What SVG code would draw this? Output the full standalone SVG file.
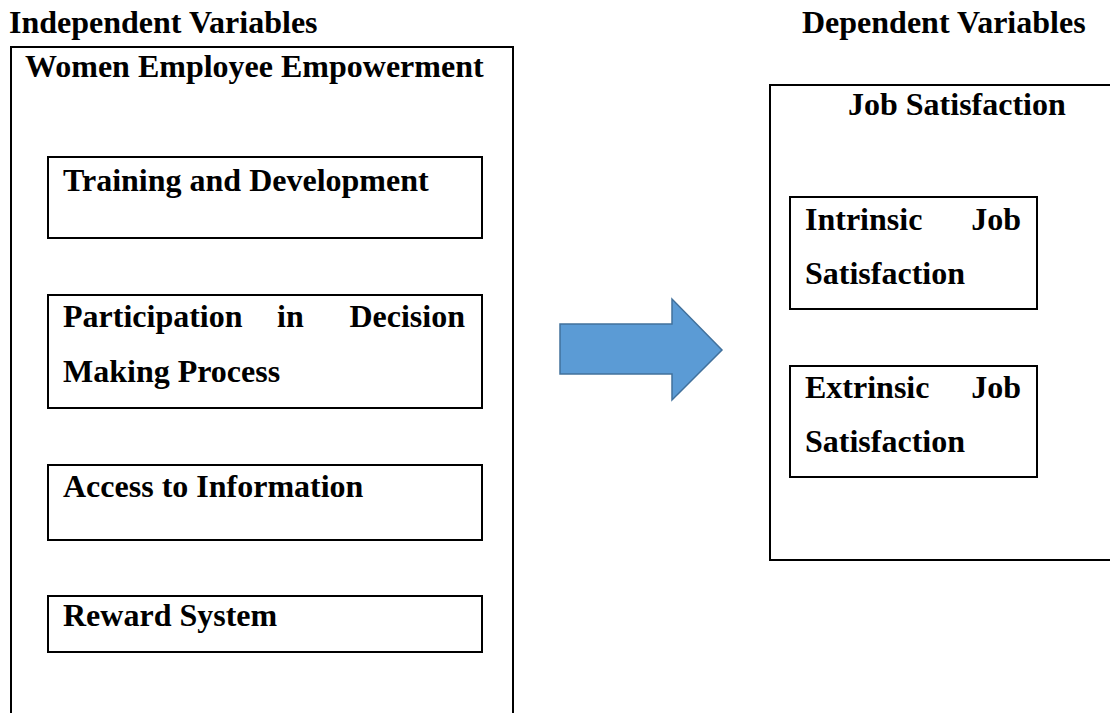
<svg xmlns="http://www.w3.org/2000/svg" width="1110" height="713" viewBox="0 0 1110 713">
  <style>
    .t { font-family: "Liberation Serif", "Times New Roman", serif; font-weight: bold; font-size: 32px; fill: #000; }
    .box { fill: none; stroke: #000; stroke-width: 2; }
    .arrow { fill: #5b9bd5; stroke: #41719c; stroke-width: 1.5; }
  </style>
  <rect width="1110" height="713" fill="#fff"/>

  <!-- column headings -->
  <text class="t" x="9" y="33">Independent Variables</text>
  <text class="t" x="802" y="33">Dependent Variables</text>

  <!-- independent side: container (open at the bottom edge) -->
  <g id="empowerment">
    <path class="box" d="M11 720 V47 H513 V720"/>
    <text class="t" x="25" y="77">Women Employee Empowerment</text>
  </g>

  <g id="training">
    <rect class="box" x="48" y="157" width="434" height="81"/>
    <text class="t" x="63" y="191">Training and Development</text>
  </g>

  <g id="participation">
    <rect class="box" x="48" y="295" width="434" height="113"/>
    <text class="t" x="63" y="327">Participation</text>
    <text class="t" x="277" y="327">in</text>
    <text class="t" x="465" y="327" text-anchor="end">Decision</text>
    <text class="t" x="63" y="382">Making Process</text>
  </g>

  <g id="access">
    <rect class="box" x="48" y="465" width="434" height="75"/>
    <text class="t" x="63" y="497">Access to Information</text>
  </g>

  <g id="reward">
    <rect class="box" x="48" y="596" width="434" height="56"/>
    <text class="t" x="63" y="626">Reward System</text>
  </g>

  <!-- dependent side: container (runs past the right edge) -->
  <g id="job-satisfaction">
    <path class="box" d="M1120 85 H770 V560 H1120"/>
    <text class="t" x="848" y="115">Job Satisfaction</text>
  </g>

  <g id="intrinsic">
    <rect class="box" x="790" y="197" width="247" height="112"/>
    <text class="t" x="805" y="230">Intrinsic</text>
    <text class="t" x="1021" y="230" text-anchor="end">Job</text>
    <text class="t" x="805" y="284">Satisfaction</text>
  </g>

  <g id="extrinsic">
    <rect class="box" x="790" y="366" width="247" height="111"/>
    <text class="t" x="805" y="398">Extrinsic</text>
    <text class="t" x="1021" y="398" text-anchor="end">Job</text>
    <text class="t" x="805" y="452">Satisfaction</text>
  </g>

  <!-- connector: block arrow from independent to dependent variables -->
  <g id="connectors">
    <path class="arrow" d="M560 324 H672 V299 L722 350 L672 400 V374 H560 Z"/>
  </g>
</svg>
